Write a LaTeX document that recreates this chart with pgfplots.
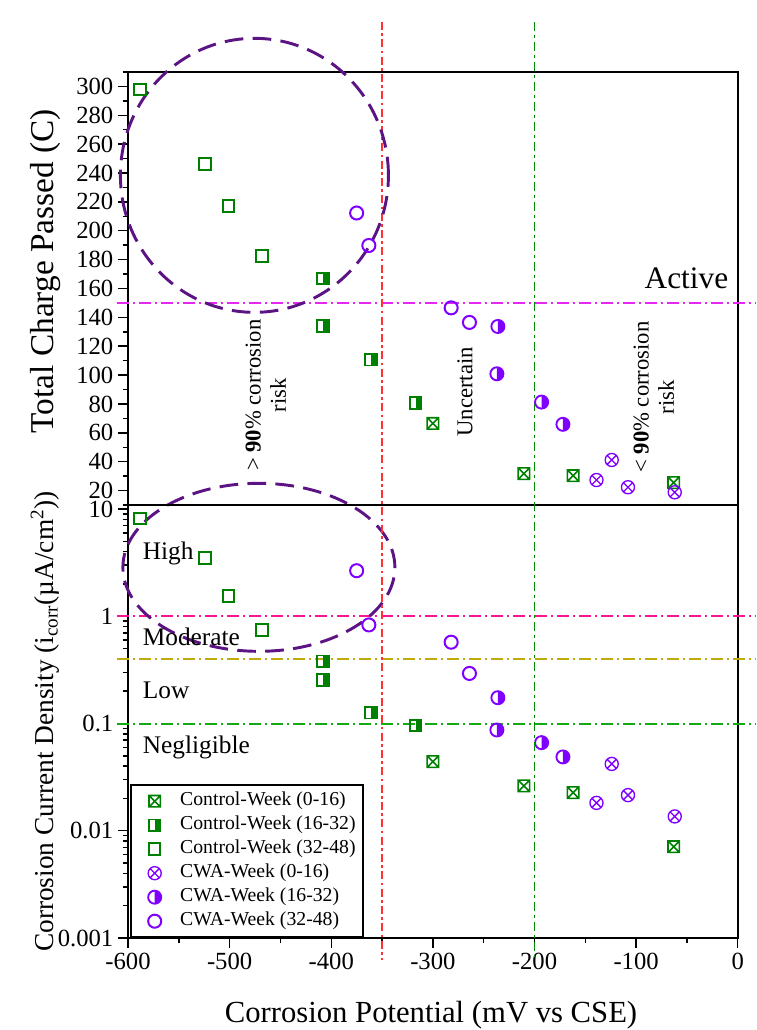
\documentclass[border=0pt]{standalone}
\usepackage{fontspec}
\setmainfont{Liberation Serif}
\usepackage{pgfplots}
\pgfplotsset{compat=1.18}

\definecolor{mgreen}{RGB}{0,128,0}
\definecolor{mpurple}{RGB}{128,0,255}
\definecolor{ellc}{RGB}{92,20,132}
\definecolor{lmag}{RGB}{228,40,240}
\definecolor{lpink}{RGB}{255,20,150}
\definecolor{lolive}{RGB}{190,170,10}
\definecolor{thrgreen}{RGB}{20,170,20}
\definecolor{vred}{RGB}{255,50,50}
\definecolor{vgreen}{RGB}{0,140,0}

\pgfdeclareplotmark{sqx}{%
 \pgfpathrectangle{\pgfqpoint{-\pgfplotmarksize}{-\pgfplotmarksize}}{\pgfqpoint{2\pgfplotmarksize}{2\pgfplotmarksize}}%
 \pgfpathmoveto{\pgfqpoint{-\pgfplotmarksize}{-\pgfplotmarksize}}%
 \pgfpathlineto{\pgfqpoint{\pgfplotmarksize}{\pgfplotmarksize}}%
 \pgfpathmoveto{\pgfqpoint{-\pgfplotmarksize}{\pgfplotmarksize}}%
 \pgfpathlineto{\pgfqpoint{\pgfplotmarksize}{-\pgfplotmarksize}}%
 \pgfusepathqstroke}
\pgfdeclareplotmark{halfsq}{%
 \pgfpathrectangle{\pgfqpoint{0pt}{-\pgfplotmarksize}}{\pgfqpoint{\pgfplotmarksize}{2\pgfplotmarksize}}%
 \pgfusepathqfill
 \pgfpathrectangle{\pgfqpoint{-\pgfplotmarksize}{-\pgfplotmarksize}}{\pgfqpoint{2\pgfplotmarksize}{2\pgfplotmarksize}}%
 \pgfusepathqstroke}
\pgfdeclareplotmark{halfcirc}{%
 \pgfpathmoveto{\pgfqpoint{0pt}{\pgfplotmarksize}}%
 \pgfpatharc{90}{-90}{\pgfplotmarksize}%
 \pgfpathclose\pgfusepathqfill
 \pgfpathcircle{\pgfpointorigin}{\pgfplotmarksize}%
 \pgfusepathqstroke}

\pgfplotsset{
  common/.style={
    scale only axis, width=457.3pt, height=324.75pt,
    xmin=-600, xmax=0, clip=false,
    tick align=outside, tick pos=left,
    major tick length=7.5pt, minor tick length=4pt,
    every tick/.style={black, line width=1.1pt},
    axis line style={line width=1.4pt},
    tick label style={font=\fontsize{18.5}{20}\selectfont},
    yticklabel style={inner ysep=0pt},
    label style={font=\fontsize{23}{26}\selectfont},
    /pgf/number format/assume math mode=true,
    ylabel style={at={(axis description cs:-0.136,0.5)}, anchor=center},
    legend image code/.code={\path (0pt,0pt) (30pt,0pt); \draw[##1] plot coordinates {(13pt,0pt)};},
  },
  s1/.style={only marks, mark=sqx, mark size=4.3pt, mark options={draw=mgreen, line width=1.2pt}},
  s2/.style={only marks, mark=halfsq, mark size=4.3pt, mark options={draw=mgreen, fill=mgreen, line width=1.4pt}},
  s3/.style={only marks, mark=square, mark size=4.3pt, mark options={draw=mgreen, line width=1.5pt}},
  s4/.style={only marks, mark=otimes, mark size=4.9pt, mark options={draw=mpurple, line width=1pt}},
  s5/.style={only marks, mark=halfcirc, mark size=4.9pt, mark options={draw=mpurple, fill=mpurple, line width=1.4pt}},
  s6/.style={only marks, mark=o, mark size=4.9pt, mark options={draw=mpurple, line width=1.5pt}},
}

\begin{document}
\begin{tikzpicture}
\useasboundingbox (-96pt,-69pt) rectangle (471pt,703.5pt);

% ---------------- bottom axis ----------------
\begin{axis}[common,
  at={(0pt,0pt)}, anchor=south west,
  ymode=log, ymin=0.001, ymax=10.9,
  xtick={-600,-500,...,0},
  minor xtick={-550,-450,...,-50},
  ytick={0.001,0.01,0.1,1,10},
  yticklabels={0.001,0.01,0.1,1,\raisebox{-4pt}{10}},
  minor ytick={0.002,0.003,0.004,0.005,0.006,0.007,0.008,0.009,
               0.02,0.03,0.04,0.05,0.06,0.07,0.08,0.09,
               0.2,0.3,0.4,0.5,0.6,0.7,0.8,0.9,
               2,3,4,5,6,7,8,9},
  xlabel={Corrosion Potential (mV vs CSE)},
  xlabel style={at={(axis description cs:0.497,0)}, anchor=center, yshift=-58pt},
  ylabel={Corrosion Current Density (i\textsubscript{corr}(µA/cm\textsuperscript{2}))},
  ylabel style={font=\fontsize{20.5}{23}\selectfont},
  legend cell align=left,
  legend style={at={(axis description cs:0.004,0)}, anchor=south west,
    draw=black, line width=1.2pt, fill=white,
    font=\fontsize{14.8}{17}\selectfont,
    row sep=0pt, inner xsep=4pt, inner ysep=3pt,
    nodes={inner sep=1.5pt, text height=11pt, text depth=4pt}},
]
% threshold lines
\draw[lpink, line width=1.3pt, dash pattern=on 9pt off 3pt on 1.5pt off 3pt] (axis cs:-611,1) -- (axis cs:18,1);
\draw[lolive, line width=1.2pt, dash pattern=on 9pt off 3pt on 1.5pt off 3pt] (axis cs:-611,0.4) -- (axis cs:18,0.4);
\draw[thrgreen, line width=1.5pt, dash pattern=on 9pt off 3pt on 1.5pt off 3pt] (axis cs:-611,0.1) -- (axis cs:18,0.1);

\addplot[s1] coordinates {(-300,0.0441) (-210.5,0.0262) (-162,0.0227) (-63,0.0071)};
\addlegendentry{Control-Week (0-16)}
\addplot[s2] coordinates {(-408,0.381) (-408,0.254) (-361,0.126) (-317,0.0960)};
\addlegendentry{Control-Week (16-32)}
\addplot[s3] coordinates {(-588,8.2) (-524,3.49) (-501,1.55) (-468,0.741)};
\addlegendentry{Control-Week (32-48)}
\addplot[s4] coordinates {(-139,0.0182) (-124,0.042) (-108,0.0215) (-62,0.0136)};
\addlegendentry{CWA-Week (0-16)}
\addplot[s5] coordinates {(-236,0.174) (-237,0.087) (-193,0.0663) (-172,0.0488)};
\addlegendentry{CWA-Week (16-32)}
\addplot[s6] coordinates {(-375,2.66) (-363,0.83) (-282,0.573) (-264,0.293)};
\addlegendentry{CWA-Week (32-48)}

\draw[ellc, line width=2.2pt, dash pattern=on 14pt off 7pt] (axis cs:-471.2,2.86) ellipse [x radius=102pt, y radius=63pt];

\node[anchor=west, font=\fontsize{19}{22}\selectfont] at (axis cs:-590,3.86) {High};
\node[anchor=west, font=\fontsize{19}{22}\selectfont] at (axis cs:-590,0.642) {Moderate};
\node[anchor=west, font=\fontsize{19}{22}\selectfont] at (axis cs:-590,0.205) {Low};
\node[anchor=west, font=\fontsize{19}{22}\selectfont] at (axis cs:-590,0.0604) {Negligible};
\end{axis}

% ---------------- top axis ----------------
\begin{axis}[common,
  at={(0pt,324.75pt)}, anchor=south west,
  ymin=10, ymax=310,
  xtick=\empty,
  ytick={20,40,...,300},
  minor ytick={10,30,...,310},
  ylabel={Total Charge Passed (C)},
  ylabel style={font=\fontsize{25}{28}\selectfont, at={(axis description cs:-0.136,0.54)}},
]
\draw[lmag, line width=1.2pt, dash pattern=on 9pt off 3pt on 1.5pt off 3pt] (axis cs:-611,150) -- (axis cs:18,150);
% vertical boundaries spanning both panels
\draw[vred, line width=1.2pt, dash pattern=on 6pt off 2.5pt on 2pt off 2.5pt] (axis cs:-350,344.6) -- ++(0pt,-703.5pt);
\draw[vgreen, line width=1.4pt, dash pattern=on 7pt off 3pt on 2pt off 3pt] (axis cs:-200,344.6) -- ++(0pt,-701pt);

\addplot[s1] coordinates {(-300,66.5) (-210.5,31.7) (-162,30.3) (-63,25.5)};
\addplot[s2] coordinates {(-408,166.9) (-408,134.1) (-361,110.6) (-317,80.6)};
\addplot[s3] coordinates {(-588,297.7) (-524,246.2) (-501,217.2) (-468,182.6)};
\addplot[s4] coordinates {(-139,27.3) (-124,41.2) (-108,22.3) (-62,18.8)};
\addplot[s5] coordinates {(-236,133.7) (-237,100.9) (-193,81.3) (-172,65.9)};
\addplot[s6] coordinates {(-375,212.3) (-363,189.8) (-282,146.6) (-264,136.5)};

\draw[ellc, line width=2.2pt, dash pattern=on 14pt off 7pt] (axis cs:-475.6,238.4) ellipse [x radius=100.5pt, y radius=102.75pt];

\node[font=\fontsize{23.5}{26}\selectfont] at (axis cs:-50.5,166.9) {Active};
\node[rotate=90, font=\fontsize{17}{19}\selectfont] at (axis cs:-268.5,88.4) {Uncertain};
\node[rotate=90, align=center, font=\fontsize{17}{19}\selectfont] at (axis cs:-82.6,84.8) {< \textbf{90}\% corrosion\\risk};
\node[rotate=90, align=center, font=\fontsize{17}{19}\selectfont] at (axis cs:-464.3,86) {> \textbf{90}\% corrosion\\risk};
\end{axis}
\end{tikzpicture}
\end{document}
